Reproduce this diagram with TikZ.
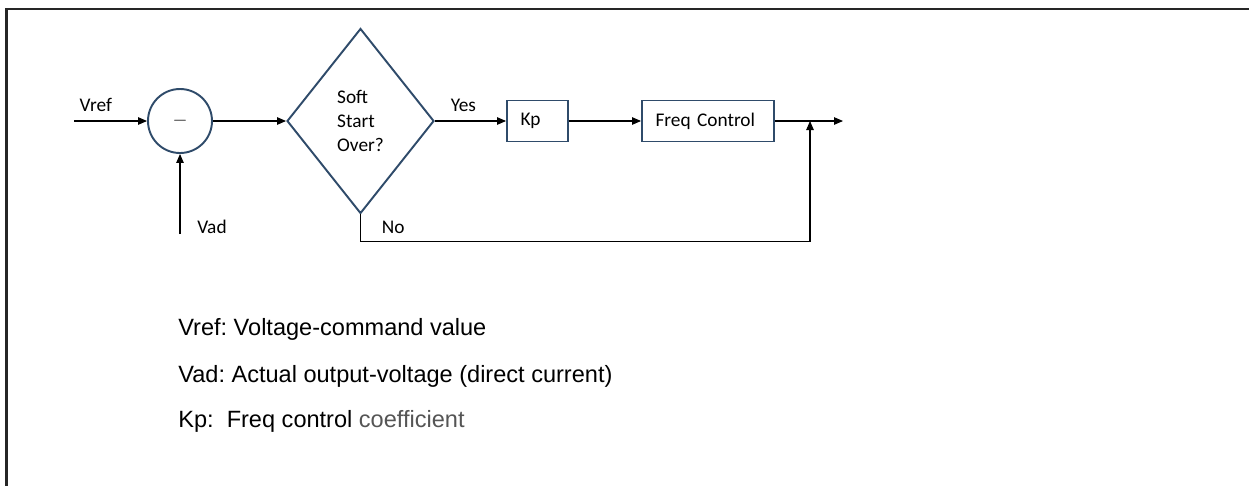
\documentclass[tikz,border=0pt]{standalone}
\usepackage{fontspec}
\setmainfont{Carlito}
\newfontfamily\legendfont{Liberation Sans}
\usepackage{tikz}
\usetikzlibrary{shapes,arrows.meta,positioning}
\frenchspacing
\definecolor{boxblue}{RGB}{47,75,106}
\definecolor{coefgray}{RGB}{85,85,85}
\tikzstyle{sumcircle}=[circle, draw=boxblue, line width=1.1pt, minimum size=1.28cm, inner sep=0pt]
\tikzstyle{decision}=[diamond, draw=boxblue, line width=1.1pt, align=left, minimum width=2.94cm, minimum height=3.70cm, inner sep=0pt, aspect=0.8]
\tikzstyle{ctrlblock}=[rectangle, draw=boxblue, line width=1.1pt, align=left, minimum height=0.82cm, inner xsep=0.27cm]
\tikzstyle{sig}=[-{Triangle[length=0.18cm,width=0.15cm]}, line width=0.6pt]
\tikzstyle{legend}=[anchor=west, inner sep=0pt, font=\legendfont\fontsize{13.4}{16}\selectfont]

\begin{document}
\begin{tikzpicture}[every node/.style = {font=\fontsize{11}{13.5}\selectfont}]
\useasboundingbox (0,0) rectangle (24.98,-9.72);

% frame
\draw[line width=1.2pt, black!85] (24.98,-0.18) -- (0.13,-0.18) -- (0.13,-9.72);

\node[sumcircle] (sum) at (3.60,-2.42) {$-$};
\node[decision] (check) at (7.21,-2.42) {Soft\\Start\\Over?};
\node[ctrlblock, text width=0.68cm] (kp) at (10.75,-2.42) {Kp};
\node[ctrlblock, text width=2.10cm] (freq) at (14.16,-2.42) {Freq Control};
\coordinate (vrefin) at (1.48,-2.42);
\coordinate (vadin) at (3.60,-4.68);
\coordinate (join) at (16.20,-2.42);
\coordinate (out) at (16.86,-2.42);

\draw[sig] (vrefin) -- node[above=0.05cm, pos=0.3] {Vref} (sum.west);
\draw[sig] (vadin) -- (sum.south);
\node (vad) at (4.24,-4.54) {Vad};
\draw[sig] (sum.east) -- (check.west);
\draw[sig] (check.east) -- node[above=0.05cm, pos=0.4] {Yes} (kp.west);
\draw[sig] (kp.east) -- (freq.west);
\draw[sig] (freq.east) -- (out);
\draw[sig] (check.south) -- ++(0,-0.54) node[above right=0.02cm and 0.3cm] {No} -| (join);

% legend
\node[legend] (l1) at (3.56,-6.58) {Vref: Voltage-command value};
\node[legend] (l2) at (3.56,-7.52) {Vad: Actual output-voltage (direct current)};
\node[legend] (l3) at (3.56,-8.42) {Kp:\ \ Freq control \textcolor{coefgray}{coefficient}};

\end{tikzpicture}
\end{document}
